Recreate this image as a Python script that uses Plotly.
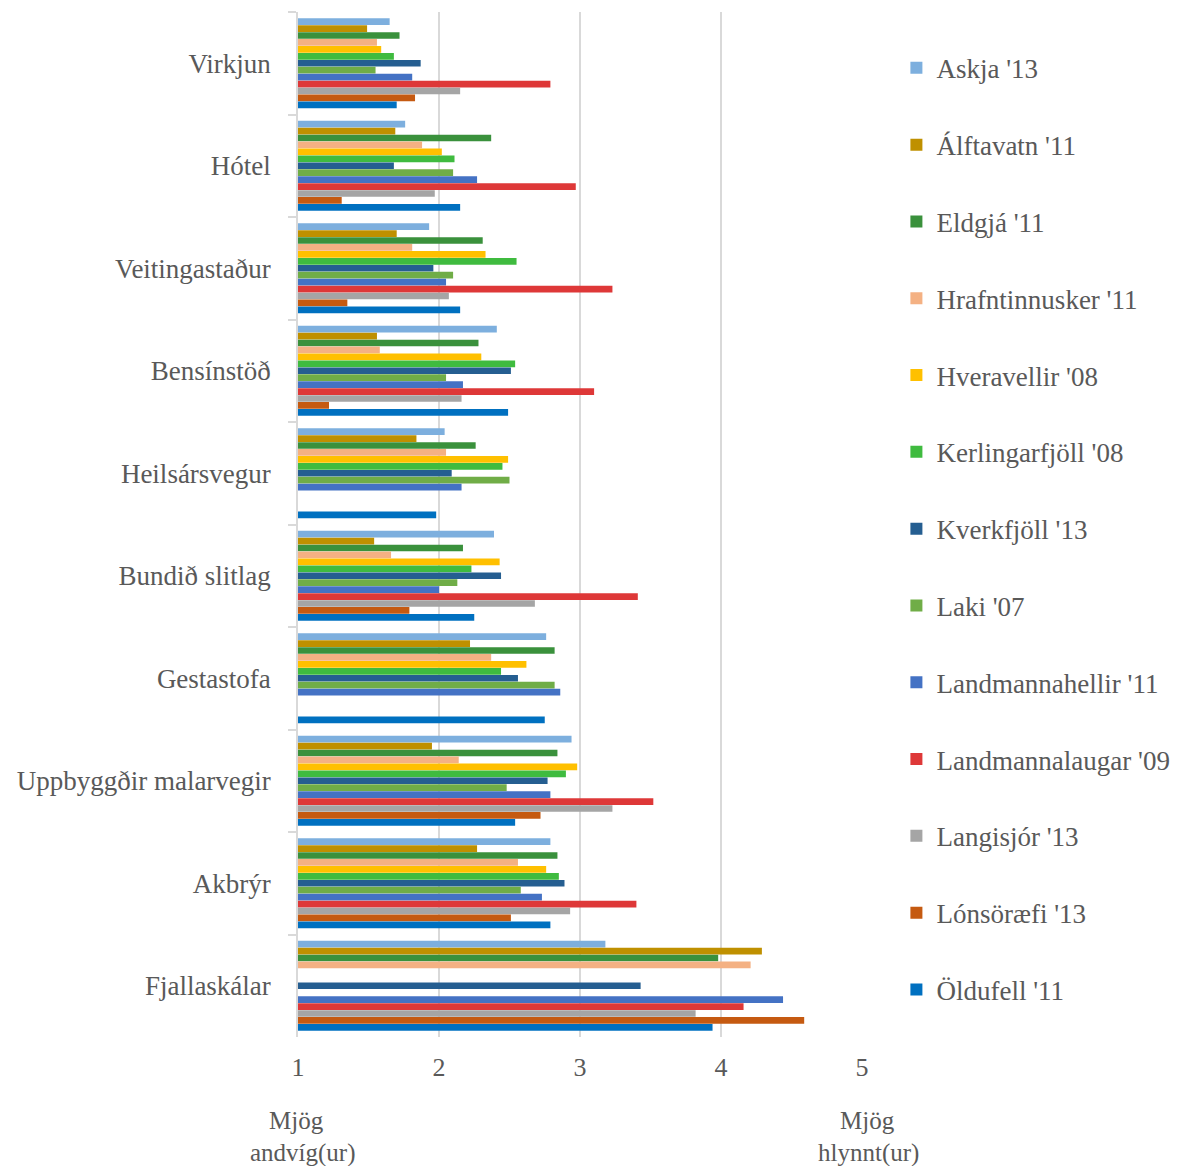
import plotly.graph_objects as go

categories = ["Virkjun", "Hótel", "Veitingastaður", "Bensínstöð", "Heilsársvegur",
              "Bundið slitlag", "Gestastofa", "Uppbyggðir malarvegir", "Akbrýr", "Fjallaskálar"]

series_names = ["Askja '13", "Álftavatn '11", "Eldgjá '11", "Hrafntinnusker '11", "Hveravellir '08",
                "Kerlingarfjöll '08", "Kverkfjöll '13", "Laki '07", "Landmannahellir '11",
                "Landmannalaugar '09", "Langisjór '13", "Lónsöræfi '13", "Öldufell '11"]

askja = [1.65, 1.76, 1.93, 2.41, 2.04, 2.39, 2.76, 2.94, 2.79, 3.18]
alftavatn = [1.49, 1.69, 1.70, 1.56, 1.84, 1.54, 2.22, 1.95, 2.27, 4.29]
eldgja = [1.72, 2.37, 2.31, 2.28, 2.26, 2.17, 2.82, 2.84, 2.84, 3.98]
hrafntinnusker = [1.56, 1.88, 1.81, 1.58, 2.05, 1.66, 2.37, 2.14, 2.56, 4.21]
hveravellir = [1.59, 2.02, 2.33, 2.30, 2.49, 2.43, 2.62, 2.98, 2.76, None]
kerlingarfjoll = [1.68, 2.11, 2.55, 2.54, 2.45, 2.23, 2.44, 2.90, 2.85, None]
kverkfjoll = [1.87, 1.68, 1.96, 2.51, 2.09, 2.44, 2.56, 2.77, 2.89, 3.43]
laki = [1.55, 2.10, 2.10, 2.05, 2.50, 2.13, 2.82, 2.48, 2.58, None]
landmannahellir = [1.81, 2.27, 2.05, 2.17, 2.16, 2.00, 2.86, 2.79, 2.73, 4.44]
landmannalaugar = [2.79, 2.97, 3.23, 3.10, None, 3.41, None, 3.52, 3.40, 4.16]
langisjor = [2.15, 1.97, 2.07, 2.16, None, 2.68, None, 3.23, 2.93, 3.82]
lonsoraefi = [1.83, 1.31, 1.35, 1.22, None, 1.79, None, 2.72, 2.51, 4.59]
oldufell = [1.70, 2.15, 2.15, 2.49, 1.98, 2.25, 2.75, 2.54, 2.79, 3.94]

series_values = [askja, alftavatn, eldgja, hrafntinnusker, hveravellir, kerlingarfjoll,
                 kverkfjoll, laki, landmannahellir, landmannalaugar, langisjor, lonsoraefi, oldufell]

colors = ["#7DAFDE", "#BF9000", "#3A913C", "#F4B183", "#FFC000", "#3FBB3F", "#255E91",
          "#70AD47", "#4472C4", "#DE3838", "#A5A5A5", "#C55A11", "#0070C0"]

x_ticks = [1, 2, 3, 4, 5]

FONT = "Liberation Serif"
TXT = "#595959"

fig = go.Figure()
for i, (name, vals) in enumerate(zip(series_names, series_values)):
    fig.add_trace(go.Bar(
        y=categories, x=vals, name=name, orientation="h", base=0,
        marker=dict(color=colors[i], line=dict(width=0)),
        legendgroup=name,
    ))

fig.update_layout(
    width=1178, height=1158,
    margin=dict(l=290, r=324, t=4, b=129, autoexpand=False),
    paper_bgcolor="white", plot_bgcolor="white",
    barmode="group", bargap=0.12, bargroupgap=0.04,
    font=dict(family=FONT, color=TXT),
    showlegend=True,
    legend=dict(
        x=1.061, y=0.969, xanchor="left", yanchor="top",
        font=dict(family=FONT, size=27, color=TXT),
        traceorder="grouped", tracegroupgap=38.7,
        itemwidth=30,
    ),
    xaxis=dict(
        range=[1, 5], tickvals=x_ticks, ticktext=[str(v) for v in x_ticks],
        showgrid=True, gridcolor="#D9D9D9", gridwidth=1.5,
        zeroline=False, showline=False, ticks="",
        tickfont=dict(family=FONT, size=26, color=TXT),
        ticklabelstandoff=12,
    ),
    yaxis=dict(
        autorange="reversed", type="category",
        showline=True, linecolor="#D9D9D9", linewidth=1.5,
        ticks="outside", tickson="boundaries", ticklen=8, tickcolor="#D9D9D9", tickwidth=1.5,
        tickfont=dict(family=FONT, size=27, color=TXT),
        ticklabelstandoff=20,
        showgrid=False,
    ),
)

for xv, lines, shifts in [(1, ["Mjög", "andvíg(ur)"], [-2, 5]), (5, ["Mjög", "hlynnt(ur)"], [5, 6])]:
    for j, (t, xs) in enumerate(zip(lines, shifts)):
        fig.add_annotation(x=xv, y=0, xref="x", yref="paper", yshift=-83 - 33 * j, xshift=xs,
                           text=t, showarrow=False, xanchor="center", yanchor="middle",
                           font=dict(family=FONT, size=25, color=TXT))

fig.write_html("out.html")
